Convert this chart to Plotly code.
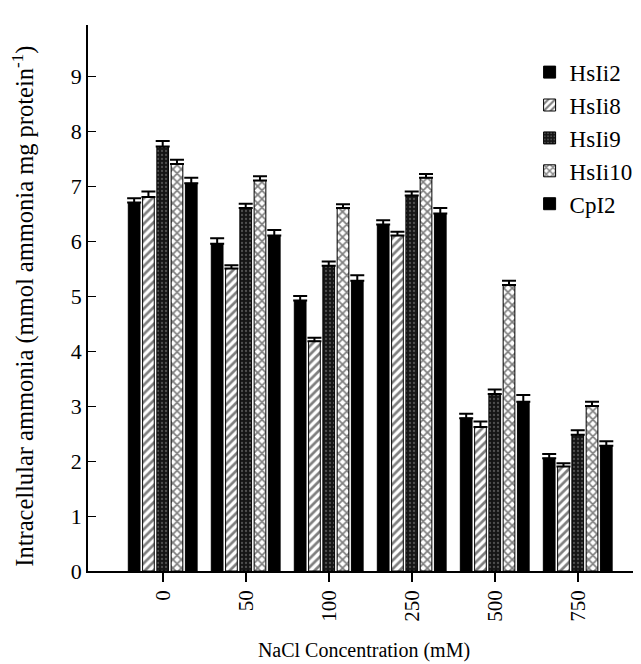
import plotly.graph_objects as go

categories = ["0", "50", "100", "250", "500", "750"]
series_names = ["HsIi2", "HsIi8", "HsIi9", "HsIi10", "CpI2"]

hsii2 = [6.70, 5.95, 4.92, 6.30, 2.78, 2.05]
hsii8 = [6.80, 5.50, 4.18, 6.10, 2.62, 1.90]
hsii9 = [7.72, 6.60, 5.55, 6.83, 3.22, 2.48]
hsii10 = [7.40, 7.10, 6.60, 7.15, 5.20, 3.00]
cpi2 = [7.05, 6.10, 5.28, 6.50, 3.08, 2.28]

err_hsii2 = [0.08, 0.10, 0.08, 0.08, 0.08, 0.08]
err_hsii8 = [0.10, 0.06, 0.06, 0.07, 0.10, 0.06]
err_hsii9 = [0.10, 0.08, 0.08, 0.07, 0.08, 0.08]
err_hsii10 = [0.08, 0.08, 0.07, 0.07, 0.08, 0.08]
err_cpi2 = [0.10, 0.10, 0.10, 0.10, 0.12, 0.08]

values = [hsii2, hsii8, hsii9, hsii10, cpi2]
errors = [err_hsii2, err_hsii8, err_hsii9, err_hsii10, err_cpi2]

y_title = "Intracellular ammonia (mmol ammonia mg protein<sup>-1</sup>)"
x_title = "NaCl Concentration (mM)"

patterns = [
    dict(shape="", bgcolor="black", fgcolor="black"),
    dict(shape="/", bgcolor="white", fgcolor="black", size=6, solidity=0.45, fillmode="overlay"),
    dict(shape=".", bgcolor="#151515", fgcolor="#8a8a8a", size=4, solidity=0.25, fillmode="overlay"),
    dict(shape="x", bgcolor="white", fgcolor="black", size=6, solidity=0.5, fillmode="overlay"),
    dict(shape="", bgcolor="black", fgcolor="black"),
]
colors = ["black", "white", "#151515", "white", "black"]

font_family = "Liberation Serif, Times New Roman, serif"

fig = go.Figure()
for name, vals, errs, pat, col in zip(series_names, values, errors, patterns, colors):
    fig.add_trace(go.Bar(
        name=name,
        x=categories,
        y=vals,
        marker=dict(color=col, line=dict(color="black", width=1), pattern=pat),
        error_y=dict(type="data", array=errs, arrayminus=[0] * len(errs),
                     symmetric=False, color="black", thickness=2, width=7),
    ))

fig.add_annotation(
    text=y_title, textangle=-90, showarrow=False,
    xref="paper", yref="paper", x=-0.116, y=0.005,
    xanchor="center", yanchor="bottom",
    font=dict(size=24.5, family=font_family, color="black"),
)

fig.update_layout(
    width=633, height=656,
    margin=dict(l=80, r=1, t=17, b=93),
    paper_bgcolor="white", plot_bgcolor="white",
    barmode="group", bargap=0.14, bargroupgap=0.18,
    font=dict(family=font_family, size=20, color="black"),
    legend=dict(x=0.80, y=0.953, xanchor="left", yanchor="top",
                font=dict(size=23, family=font_family),
                bgcolor="rgba(0,0,0,0)"),
    xaxis=dict(
        type="category", range=[-0.9, 5.75], automargin=False,
        showline=True, linecolor="black", linewidth=1.5,
        ticks="outside", ticklen=9, tickcolor="black", tickwidth=1.5,
        tickangle=-90, tickfont=dict(size=21),
        title=dict(text=x_title, font=dict(size=20), standoff=22),
        showgrid=False, zeroline=False,
    ),
    yaxis=dict(
        range=[0, 9.93], tickvals=list(range(10)), automargin=False,
        showline=True, linecolor="black", linewidth=1.5,
        ticks="inside", ticklen=8, tickcolor="black", tickwidth=1,
        tickfont=dict(size=22),
        showgrid=False, zeroline=False,
    ),
)

fig.write_html("out.html")
